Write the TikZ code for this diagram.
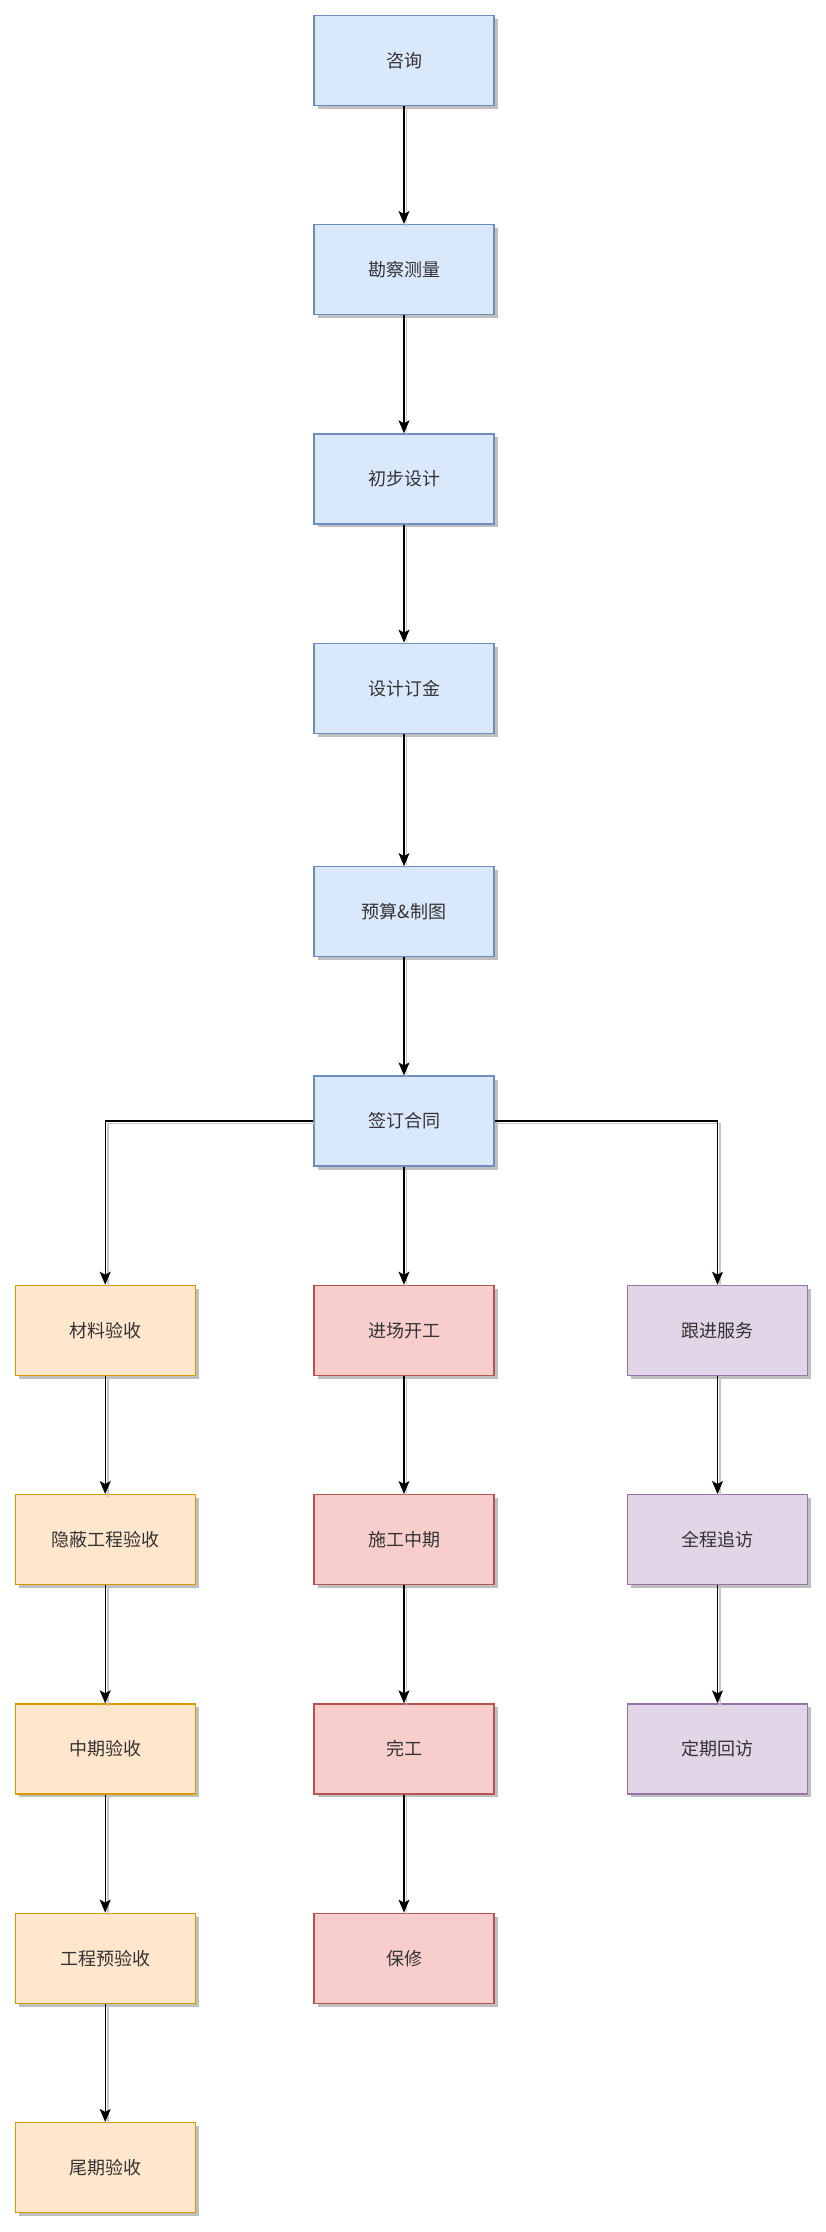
\documentclass[tikz,border=0pt]{standalone}
\usepackage{fontspec}
\newfontfamily\cjk{Noto Sans CJK SC}
\usetikzlibrary{shadows,arrows.meta}
\definecolor{bfill}{HTML}{DAE8FC}\definecolor{bdraw}{HTML}{6C8EBF}
\definecolor{ofill}{HTML}{FFE6CC}\definecolor{odraw}{HTML}{D79B00}
\definecolor{rfill}{HTML}{F8CECC}\definecolor{rdraw}{HTML}{B85450}
\definecolor{pfill}{HTML}{E1D5E7}\definecolor{pdraw}{HTML}{9673A6}
\definecolor{txt}{HTML}{333333}
\tikzset{
  box/.style={rectangle, minimum width=180pt, minimum height=90pt, inner sep=0pt,
    line width=1.2pt, text=txt, font=\cjk\fontsize{18}{22}\selectfont,
    drop shadow={shadow xshift=3.5pt, shadow yshift=-3.5pt, fill=black!25, opacity=1}},
  bbox/.style={box, fill=bfill, draw=bdraw},
  obox/.style={box, fill=ofill, draw=odraw},
  rbox/.style={box, fill=rfill, draw=rdraw},
  pbox/.style={box, fill=pfill, draw=pdraw},
  conn/.style={line width=1.2pt, -{Stealth[length=13pt,width=11pt,inset=3pt]},
    preaction={draw=black!22, line width=1.6pt, -, transform canvas={shift={(2.5pt,-2.5pt)}}}},
}
\begin{document}
\begin{tikzpicture}[x=1pt,y=-1pt]
\useasboundingbox (0,0) rectangle (826,2232);
\fill[white] (0,0) rectangle (826,2232);
\def\L{105.2}\def\C{404}\def\R{717.5}
\node[bbox] (a1) at (\C,60.3) {咨询};
\node[bbox] (a2) at (\C,269.6) {勘察测量};
\node[bbox] (a3) at (\C,478.9) {初步设计};
\node[bbox] (a4) at (\C,688.2) {设计订金};
\node[bbox] (a5) at (\C,911.7) {预算\&制图};
\node[bbox] (a6) at (\C,1121) {签订合同};
\node[obox] (l1) at (\L,1330.3) {材料验收};
\node[obox] (l2) at (\L,1539.6) {隐蔽工程验收};
\node[obox] (l3) at (\L,1748.9) {中期验收};
\node[obox] (l4) at (\L,1958.2) {工程预验收};
\node[obox] (l5) at (\L,2167.5) {尾期验收};
\node[rbox] (c1) at (\C,1330.3) {进场开工};
\node[rbox] (c2) at (\C,1539.6) {施工中期};
\node[rbox] (c3) at (\C,1748.9) {完工};
\node[rbox] (c4) at (\C,1958.2) {保修};
\node[pbox] (r1) at (\R,1330.3) {跟进服务};
\node[pbox] (r2) at (\R,1539.6) {全程追访};
\node[pbox] (r3) at (\R,1748.9) {定期回访};
\draw[conn] (a1) -- (a2);
\draw[conn] (a2) -- (a3);
\draw[conn] (a3) -- (a4);
\draw[conn] (a4) -- (a5);
\draw[conn] (a5) -- (a6);
\draw[conn] (a6.west) -| (l1.north);
\draw[conn] (a6) -- (c1);
\draw[conn] (a6.east) -| (r1.north);
\draw[conn] (l1) -- (l2);
\draw[conn] (l2) -- (l3);
\draw[conn] (l3) -- (l4);
\draw[conn] (l4) -- (l5);
\draw[conn] (c1) -- (c2);
\draw[conn] (c2) -- (c3);
\draw[conn] (c3) -- (c4);
\draw[conn] (r1) -- (r2);
\draw[conn] (r2) -- (r3);
\end{tikzpicture}
\end{document}
